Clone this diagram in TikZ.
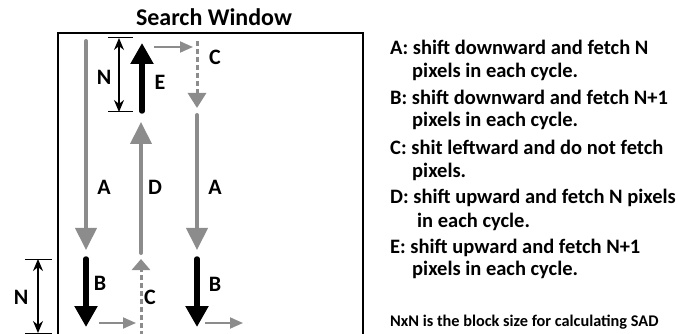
\documentclass[tikz,border=0pt]{standalone}
\usepackage{fontspec}
\setmainfont{Carlito}
\usetikzlibrary{arrows.meta}
\definecolor{shiftgray}{RGB}{140,140,140}
\tikzset{
  fetch/.style={shiftgray, line width=4pt, line cap=round, -{Triangle[width=21pt,length=22pt]}},
  fetchmore/.style={black, line width=5.5pt, line cap=round, -{Triangle[width=22pt,length=21pt]}},
  noshift/.style={shiftgray, line width=3pt, dash pattern=on 5pt off 3pt, -{Triangle[width=18pt,length=15pt]}},
  hop/.style={shiftgray, line width=1.8pt, -{Triangle[width=11pt,length=13pt]}},
  dimline/.style={black, line width=1.2pt, {Stealth[width=10pt,length=12pt]}-{Stealth[width=10pt,length=12pt]}},
  dimtick/.style={black, line width=1pt},
  lbl/.style={font=\bfseries\fontsize{22}{22}\selectfont, inner sep=0pt},
  note/.style={font=\bfseries\fontsize{20.5}{20.5}\selectfont, anchor=west, inner sep=0pt},
}
\begin{document}
\begin{tikzpicture}[x=1pt, y=-1pt]
    \useasboundingbox (0,0) rectangle (678,334);
    % search window
    \node [font=\bfseries\fontsize{24}{24}\selectfont] (title) at (214,17) {Search Window};
    \draw [line width=2pt] (58,334) |- (363,33) -- (363,334);

    % left column
    \coordinate (a1s) at (86,41);   \coordinate (a1e) at (86,250);
    \coordinate (b1s) at (86,259);  \coordinate (b1e) at (86,327);
    \coordinate (h1s) at (99,323);  \coordinate (h1e) at (136,323);
    \draw [fetch] (a1s) -- (a1e);
    \draw [fetchmore] (b1s) -- (b1e);
    \draw [hop] (h1s) -- (h1e);
    \node [lbl] (la1) at (104,187) {A};
    \node [lbl] (lb1) at (100,283) {B};

    % middle column
    \coordinate (c1s) at (141,336); \coordinate (c1e) at (141,259);
    \coordinate (ds) at (141,253);  \coordinate (de) at (141,122);
    \coordinate (es) at (142,111);  \coordinate (ee) at (142,43);
    \coordinate (h2s) at (154,47);  \coordinate (h2e) at (193,47);
    \draw [noshift, -{Triangle[width=18pt,length=11pt]}] (c1s) -- (c1e);
    \draw [fetch] (ds) -- (de);
    \draw [fetchmore] (es) -- (ee);
    \draw [hop] (h2s) -- (h2e);
    \node [lbl] (lc1) at (150,297) {C};
    \node [lbl] (ld) at (155,187) {D};
    \node [lbl] (le) at (160,82) {E};

    % right column
    \coordinate (c2s) at (197,41);  \coordinate (c2e) at (197,108);
    \coordinate (a2s) at (197,115); \coordinate (a2e) at (197,250);
    \coordinate (b2s) at (197,259); \coordinate (b2e) at (197,327);
    \coordinate (h3s) at (205,323); \coordinate (h3e) at (243,323);
    \draw [noshift] (c2s) -- (c2e);
    \draw [fetch] (a2s) -- (a2e);
    \draw [fetchmore] (b2s) -- (b2e);
    \draw [hop] (h3s) -- (h3e);
    \node [lbl] (lc2) at (215,57) {C};
    \node [lbl] (la2) at (215,187) {A};
    \node [lbl] (lb2) at (215,284) {B};

    % block size N
    \draw [dimtick] (25,259) -- (52,259) (25,333) -- (52,333);
    \coordinate (n1s) at (38,259);  \coordinate (n1e) at (38,333);
    \draw [dimline] (n1s) -- (n1e);
    \node [lbl] (ln1) at (21,297) {N};
    \draw [dimtick] (108,38) -- (133,38) (108,112) -- (133,112);
    \coordinate (n2s) at (119,38);  \coordinate (n2e) at (119,112);
    \draw [dimline] (n2s) -- (n2e);
    \node [lbl] (ln2) at (104,77) {N};

    % legend
    \node [note] (ta) at (390,47) {A: shift downward and fetch N};
    \node [note] (ta2) at (412,72) {pixels in each cycle.};
    \node [note] (tb) at (390,97) {B: shift downward and fetch N+1};
    \node [note] (tb2) at (412,121) {pixels in each cycle.};
    \node [note] (tc) at (390,147) {C: shit leftward and do not fetch};
    \node [note] (tc2) at (412,172) {pixels.};
    \node [note] (td) at (390,198) {D: shift upward and fetch N pixels};
    \node [note] (td2) at (417,222) {in each cycle.};
    \node [note] (te) at (390,248) {E: shift upward and fetch N+1};
    \node [note] (te2) at (412,270) {pixels in each cycle.};
    \node [note, font=\bfseries\fontsize{16.3}{16.3}\selectfont] (tn) at (390,322) {NxN is the block size for calculating SAD};
\end{tikzpicture}
\end{document}
